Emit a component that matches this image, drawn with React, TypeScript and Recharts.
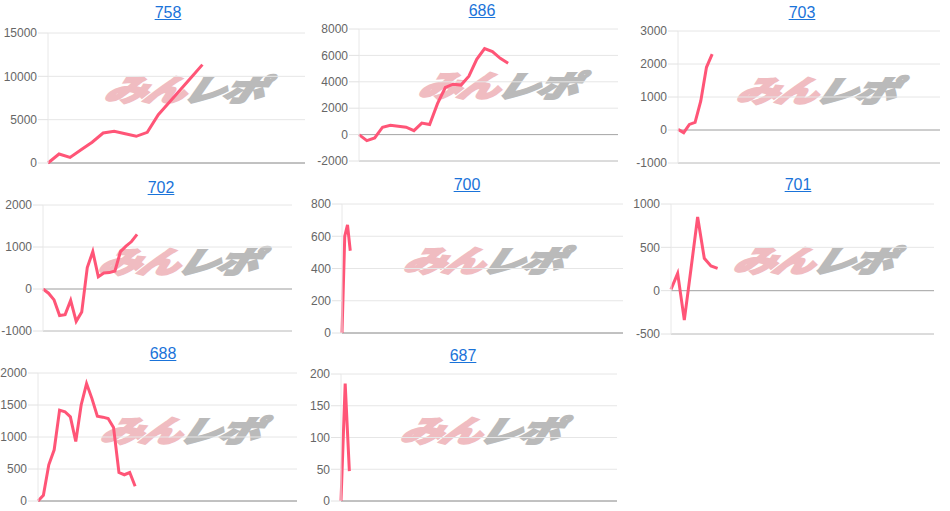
import React from 'react';
import { LineChart, Line, XAxis, YAxis, CartesianGrid, ReferenceLine } from 'recharts';

// 台番号ごとの差枚推移
const TITLES = ['758', '686', '703', '702', '700', '701', '688', '687'];

const S758 = [0, 1040, 650, 1530, 2400, 3460, 3650, 3370, 3080, 3540, 5580, 7000, 8450, 9900, 11350];
const S686 = [0, -460, -250, 560, 710, 640, 560, 300, 870, 760, 2340, 3570, 3820, 3750, 4430, 5700, 6520, 6290, 5780, 5400];
const S703 = [20, -80, 170, 230, 880, 1900, 2300];
const S702 = [0, -100, -260, -630, -610, -270, -770, -550, 510, 890, 290, 380, 390, 430, 890, 1020, 1130, 1300];
const S700 = [0, 600, 670, 510];
const S701 = [15, 200, -340, 250, 850, 373, 285, 257];
const S688 = [0, 90, 565, 800, 1420, 1395, 1315, 930, 1500, 1835, 1600, 1325, 1310, 1290, 1150, 445, 410, 445, 230];
const S687 = [0, 185, 47];

const SERIES = [S758, S686, S703, S702, S700, S701, S688, S687];

const TICKS = [
  [0, 5000, 10000, 15000],
  [-2000, 0, 2000, 4000, 6000, 8000],
  [-1000, 0, 1000, 2000, 3000],
  [-1000, 0, 1000, 2000],
  [0, 200, 400, 600, 800],
  [-500, 0, 500, 1000],
  [0, 500, 1000, 1500, 2000],
  [0, 50, 100, 150, 200],
];

// x軸の長さ（点の間隔の数）
const X_MAX = [23.3, 33, 46, 45, 102, 39.5, 48, 66];

// layout: plot box in page px, title center, watermark position
const PLOTS = [
  { l: 48, t: 33, r: 305, b: 163 },
  { l: 359, t: 29, r: 618, b: 161 },
  { l: 678, t: 31, r: 940, b: 163 },
  { l: 43, t: 205, r: 292, b: 331 },
  { l: 342, t: 204, r: 623, b: 333 },
  { l: 671, t: 204, r: 934, b: 334 },
  { l: 38, t: 373, r: 297, b: 501 },
  { l: 341, t: 374, r: 617, b: 501 },
];
const TITLE_POS = [
  { cx: 168, y: 7 }, { cx: 482, y: 5 }, { cx: 802, y: 7 },
  { cx: 161, y: 182 }, { cx: 467, y: 179 }, { cx: 798, y: 179 },
  { cx: 163, y: 348 }, { cx: 463, y: 350 },
];
const MARK_POS = [
  { x: 113, y: 74 }, { x: 427, y: 70 }, { x: 745, y: 75 },
  { x: 107, y: 246 }, { x: 412, y: 245 }, { x: 742, y: 245 },
  { x: 109, y: 415 }, { x: 409, y: 415 },
];

const FONT = '"Liberation Sans", Arial, sans-serif';
const LINE_COLOR = '#ff5577';
const AXIS_W = 48;

const Watermark: React.FC<{ x: number; y: number }> = ({ x, y }) => (
  <div
    style={{
      position: 'absolute',
      left: x,
      top: y - 4,
      fontFamily: '"Noto Sans CJK JP", sans-serif',
      fontWeight: 900,
      fontStyle: 'italic',
      fontSize: 30,
      lineHeight: '36px',
      whiteSpace: 'nowrap',
      transformOrigin: '0 0',
      transform: 'scaleX(1.4) skewX(-14deg)',
      letterSpacing: -2,
    }}
  >
    <span style={{ color: '#f0bcc1', WebkitTextStroke: '2px #f0bcc1' }}>みん</span>
    <span style={{ color: '#bababa', WebkitTextStroke: '2px #bababa' }}>レポ</span>
  </div>
);

const Panel: React.FC<{ idx: number }> = ({ idx }) => {
  const p = PLOTS[idx];
  const ticks = TICKS[idx];
  const data = SERIES[idx].map((v, i) => ({ x: i, v }));
  const top = 8;
  const bottom = 8;
  const left = p.l - AXIS_W;
  const width = p.r - p.l + AXIS_W + 2;
  const height = p.b - p.t + top + bottom;
  const yMin = ticks[0];
  const yMax = ticks[ticks.length - 1];
  return (
    <div style={{ position: 'absolute', left, top: p.t - top }}>
      <LineChart width={width} height={height} data={data} margin={{ top, right: 2, bottom, left: 0 }}>
        <CartesianGrid vertical={false} stroke="#e6e6e6" />
        <XAxis type="number" dataKey="x" domain={[0, X_MAX[idx]]} hide />
        <YAxis
          width={AXIS_W}
          domain={[yMin, yMax]}
          ticks={ticks}
          interval={0}
          tick={{ fontSize: 12, fill: '#666', fontFamily: FONT }}
          tickLine={{ stroke: '#e2e2e2' }}
          tickSize={10}
          tickMargin={1}
          axisLine={{ stroke: '#e8e8e8' }}
        />
        <ReferenceLine y={yMin} stroke="#c4c4c4" />
        <ReferenceLine y={0} stroke="#a8a8a8" />
        <Line
          type="linear"
          dataKey="v"
          stroke={LINE_COLOR}
          strokeWidth={3}
          dot={false}
          isAnimationActive={false}
        />
      </LineChart>
    </div>
  );
};

export default function App() {
  return (
    <div style={{ position: 'fixed', left: 0, top: 0, width: 950, height: 511, background: '#fff', overflow: 'hidden' }}>
      {MARK_POS.map((m, i) => (
        <Watermark key={'m' + i} x={m.x} y={m.y} />
      ))}
      {TITLES.map((t, i) => (
        <Panel key={'p' + t} idx={i} />
      ))}
      {TITLES.map((t, i) => (
        <a
          key={'t' + t}
          href="#"
          style={{
            position: 'absolute',
            left: TITLE_POS[i].cx - 30,
            width: 60,
            textAlign: 'center',
            top: TITLE_POS[i].y - 4,
            fontFamily: FONT,
            fontSize: 16,
            lineHeight: '20px',
            color: '#1a73d9',
            textDecoration: 'underline',
          }}
        >
          {t}
        </a>
      ))}
    </div>
  );
}
